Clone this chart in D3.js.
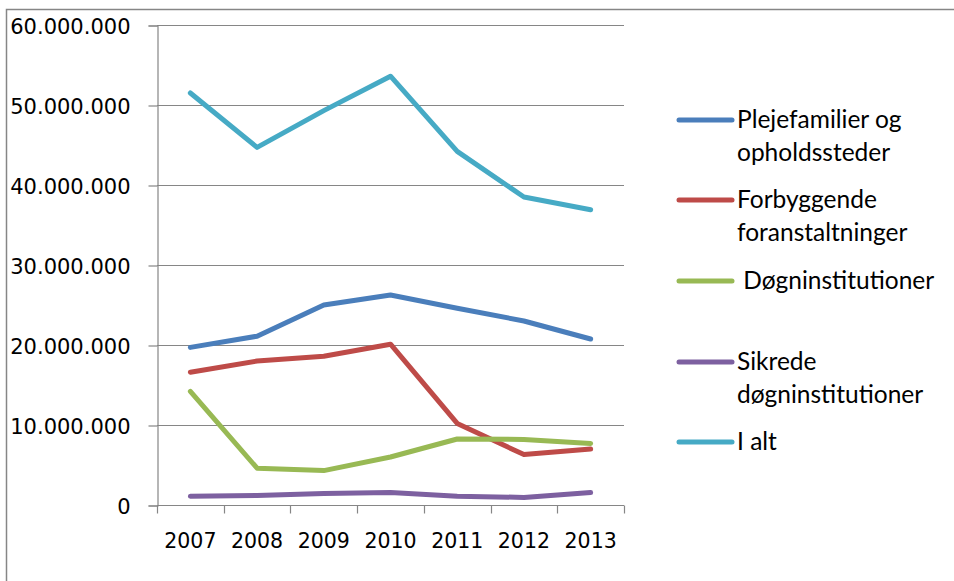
<!DOCTYPE html>
<html>
<head>
<meta charset="utf-8">
<script src="https://cdn.jsdelivr.net/npm/d3@7"></script>
<style>
  body { margin: 0; background: #fff; }
  svg { display: block; }
  .ytick text { font-family: "DejaVu Sans", sans-serif; font-size: 21px; fill: #000; }
  .xtick text { font-family: "DejaVu Sans", sans-serif; font-size: 20.5px; fill: #000; }
  .legend { font-family: Lato, sans-serif; font-size: 24.5px; fill: #000; }
</style>
</head>
<body>
<div id="chart"></div>
<script>
// data
years = ["2007", "2008", "2009", "2010", "2011", "2012", "2013"];
seriesNames = [
    ["Plejefamilier og", "opholdssteder"],
    ["Forbyggende", "foranstaltninger"],
    [" Døgninstitutioner"],
    ["Sikrede", "døgninstitutioner"],
    ["I alt"]
];
plejefamilier = [19700000, 21100000, 25000000, 26250000, 24600000, 23000000, 20750000];
forbyggende = [16600000, 18000000, 18600000, 20100000, 10200000, 6300000, 7000000];
doegninst = [14200000, 4600000, 4300000, 6000000, 8250000, 8200000, 7700000];
sikrede = [1100000, 1200000, 1450000, 1550000, 1100000, 950000, 1550000];
iAlt = [51500000, 44700000, 49300000, 53600000, 44200000, 38500000, 36900000];
yTicks = [0, 10000000, 20000000, 30000000, 40000000, 50000000, 60000000];
colours = ["#4a7ebb", "#be4b48", "#98b954", "#7d60a0", "#46aac5"];

allSeries = [plejefamilier, forbyggende, doegninst, sikrede, iAlt];

width = 954;
height = 581;
plotLeft = 157;
plotRight = 624;
plotTop = 25;
plotBottom = 505;

svg = d3.select("#chart").append("svg")
    .attr("width", width)
    .attr("height", height);

// outer chart border (only top and left visible)
svg.append("rect")
    .attr("x", 6.5)
    .attr("y", 9.5)
    .attr("width", width + 20)
    .attr("height", height + 20)
    .attr("fill", "none")
    .attr("stroke", "#868686")
    .attr("stroke-width", 1.5);

x = d3.scaleBand().domain(years).range([plotLeft, plotRight]);
y = d3.scaleLinear().domain([0, 60000000]).range([plotBottom, plotTop]);

formatNum = (d) => d === 0 ? "0" : d3.format(",")(d).replace(/,/g, ".");

// gridlines
svg.append("g")
    .selectAll("line")
    .data(yTicks.slice(1))
    .enter().append("line")
    .attr("x1", plotLeft)
    .attr("x2", plotRight)
    .attr("y1", (d) => Math.round(y(d)) + 0.5)
    .attr("y2", (d) => Math.round(y(d)) + 0.5)
    .attr("stroke", "#868686")
    .attr("stroke-width", 1.2);

// y axis
yAxis = svg.append("g")
    .attr("class", "ytick")
    .attr("transform", "translate(" + (plotLeft + 0.5) + ",0.5)")
    .call(d3.axisLeft(y).tickValues(yTicks).tickFormat(formatNum).tickSize(9).tickPadding(18));
yAxis.selectAll("line, path").attr("stroke", "#868686").attr("stroke-width", 1.2);
yAxis.selectAll("text").attr("dy", "0.36em");

// x axis with ticks between categories
xAxis = svg.append("g")
    .attr("class", "xtick")
    .attr("transform", "translate(0," + (plotBottom + 0.5) + ")");
xAxis.append("line")
    .attr("x1", plotLeft)
    .attr("x2", plotRight)
    .attr("stroke", "#868686")
    .attr("stroke-width", 1.2);
xAxis.selectAll(".tk")
    .data(years)
    .enter().append("line")
    .attr("class", "tk")
    .attr("x1", (d) => Math.round(x(d) + x.bandwidth()) + 0.5)
    .attr("x2", (d) => Math.round(x(d) + x.bandwidth()) + 0.5)
    .attr("y1", 0)
    .attr("y2", 8)
    .attr("stroke", "#868686")
    .attr("stroke-width", 1.2);
xAxis.append("line")
    .attr("x1", plotLeft + 0.5)
    .attr("x2", plotLeft + 0.5)
    .attr("y1", 0)
    .attr("y2", 8)
    .attr("stroke", "#868686")
    .attr("stroke-width", 1.2);
xAxis.selectAll("text")
    .data(years)
    .enter().append("text")
    .attr("x", (d) => x(d) + x.bandwidth() / 2)
    .attr("y", 42)
    .style("text-anchor", "middle")
    .text((d) => d);

// lines
line = d3.line()
    .x((d, i) => x(years[i]) + x.bandwidth() / 2)
    .y((d) => y(d));

svg.append("g")
    .selectAll("path")
    .data(allSeries)
    .enter().append("path")
    .attr("d", (d) => line(d))
    .attr("fill", "none")
    .attr("stroke", (d, i) => colours[i])
    .attr("stroke-width", 5)
    .attr("stroke-linejoin", "round")
    .attr("stroke-linecap", "round");

// legend
legendY = [120, 200, 281, 362, 442];
legend = svg.append("g")
    .selectAll("g")
    .data(seriesNames)
    .enter().append("g")
    .attr("transform", (d, i) => "translate(679," + legendY[i] + ")");
legend.append("line")
    .attr("x1", 0)
    .attr("x2", 53)
    .attr("stroke", (d, i) => colours[i])
    .attr("stroke-width", 5)
    .attr("stroke-linecap", "round");
legend.append("text")
    .attr("class", "legend")
    .attr("x", 58)
    .attr("y", 8)
    .style("white-space", "pre")
    .selectAll("tspan")
    .data((d) => d)
    .enter().append("tspan")
    .attr("x", 58)
    .attr("dy", (d, i) => i === 0 ? 0 : 33)
    .text((d) => d);
</script>
</body>
</html>
